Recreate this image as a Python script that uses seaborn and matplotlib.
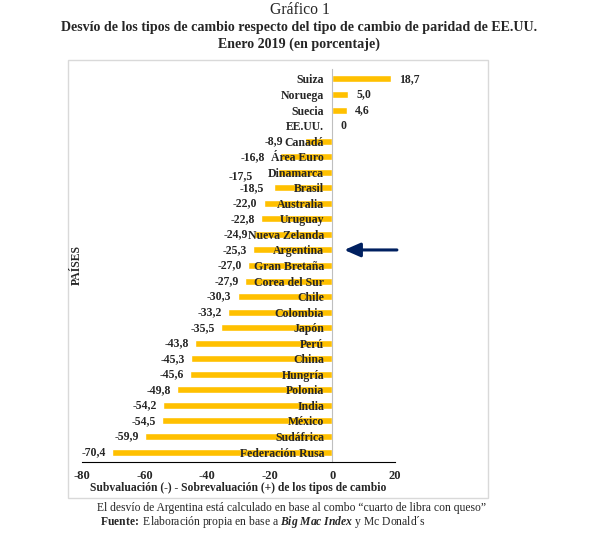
import numpy as np
import pandas as pd
import matplotlib
matplotlib.use("Agg")
import matplotlib.pyplot as plt
import seaborn as sns
from matplotlib.patches import Rectangle

# ---- datos ----
paises = ["Suiza", "Noruega", "Suecia", "EE.UU.", "Canadá", "Área Euro", "Dinamarca",
          "Brasil", "Australia", "Uruguay", "Nueva Zelanda", "Argentina", "Gran Bretaña",
          "Corea del Sur", "Chile", "Colombia", "Japón", "Perú", "China", "Hungría",
          "Polonia", "India", "México", "Sudáfrica", "Federación Rusa"]
desvio = [18.7, 5.0, 4.6, 0.0, -8.9, -16.8, -17.5, -18.5, -22.0, -22.8, -24.9, -25.3,
          -27.0, -27.9, -30.3, -33.2, -35.5, -43.8, -45.3, -45.6, -49.8, -54.2, -54.5,
          -59.9, -70.4]
etiquetas = ["18,7", "5,0", "4,6", "0", "-8,9", "-16,8", "-17,5", "-18,5", "-22,0",
             "-22,8", "-24,9", "-25,3", "-27,0", "-27,9", "-30,3", "-33,2", "-35,5",
             "-43,8", "-45,3", "-45,6", "-49,8", "-54,2", "-54,5", "-59,9", "-70,4"]
x_ticks = [-80, -60, -40, -20, 0, 20]

# ajustes manuales de etiquetas (px): las que Excel movió a mano
nudge = {"Canadá": (-15, 0), "Área Euro": (-9, 0), "Dinamarca": (-19, -4), "Brasil": (-4, 0)}

df = pd.DataFrame({"Pais": paises, "Desvio": desvio})

sns.set_theme(style="white")
plt.rcParams["font.family"] = ["Liberation Serif", "DejaVu Serif"]
plt.rcParams["mathtext.fontset"] = "custom"
plt.rcParams["mathtext.rm"] = "Liberation Serif"
plt.rcParams["mathtext.it"] = "Liberation Serif:italic"
plt.rcParams["mathtext.bf"] = "Liberation Serif:bold"
plt.rcParams["mathtext.bfit"] = "Liberation Serif:bold:italic"

fig = plt.figure(figsize=(5.99, 5.37), dpi=100)
W, H = 599, 537

# marco del gráfico
fig.patches.append(Rectangle((68 / W, 1 - 498 / H), 420 / W, 438 / H, transform=fig.transFigure,
                             fill=False, edgecolor="#D9D9D9", lw=1.0))

ax = fig.add_axes([82 / W, 1 - 462 / H, 313 / W, 393 / H])
sns.barplot(data=df, y="Pais", x="Desvio", orient="h", color="#FFC000",
            saturation=1, width=0.45, ax=ax)
ax.set_axisbelow(False)

ax.set_xlim(-80, 20)
ax.set_ylim(len(paises) - 1 + 0.64, -0.64)
ax.set_xticks(x_ticks)
ax.set_xticks(np.arange(-80, 21, 5), minor=True)
ax.set_xticklabels([str(t) for t in x_ticks], fontweight="bold", fontsize=9)
ax.tick_params(axis="x", which="major", direction="out", length=4, width=0.8, color="black", pad=2)
ax.tick_params(axis="x", which="minor", direction="out", length=2.5, width=0.8, color="black")

# eje vertical en cero
for s in ["top", "right"]:
    ax.spines[s].set_visible(False)
ax.spines["left"].set_position(("data", 0))
ax.spines["left"].set_color("#BFBFBF")
ax.spines["left"].set_linewidth(0.8)
ax.spines["bottom"].set_color("black")
ax.spines["bottom"].set_linewidth(0.8)
ax.set_yticks(range(len(paises)))
ax.set_yticklabels(paises, fontweight="bold", fontsize=8.5)
ax.tick_params(axis="y", which="major", length=0, pad=6)
ax.set_yticks(np.arange(-0.5, len(paises), 1), minor=True)
ax.tick_params(axis="y", which="minor", direction="out", length=3, color="#BFBFBF", width=0.8)

ax.set_xlabel("Subvaluación (-) - Sobrevaluación (+) de los tipos de cambio",
              fontweight="bold", fontsize=8.4, labelpad=0)
ax.set_ylabel("")
fig.text(77 / W, 1 - 265 / H, "PAÍSES", rotation=90, ha="center", va="center",
         fontweight="bold", fontsize=8.5)

# etiquetas de valor
for i, (p, v, lab) in enumerate(zip(paises, desvio, etiquetas)):
    dx, dy = nudge.get(p, (0, 0))
    if v < 0:
        ax.annotate(lab, (v, i), xytext=((-6 + dx) * 0.72, dy * 0.72), textcoords="offset points",
                    ha="right", va="center", fontweight="bold", fontsize=8.5)
    else:
        ax.annotate(lab, (v, i), xytext=((8 + dx) * 0.72, dy * 0.72), textcoords="offset points",
                    ha="left", va="center", fontweight="bold", fontsize=8.5)

# flecha hacia Argentina
i_arg = paises.index("Argentina")
ax.annotate("", xy=(2.9, i_arg), xytext=(21.5, i_arg),
            arrowprops=dict(arrowstyle="-|>,head_length=0.8,head_width=0.35",
                            color="#002060", lw=2.2), annotation_clip=False)

# títulos
fig.text(0.5, 1 - 10 / H, "Gráfico 1", ha="center", va="center", fontsize=11.3)
fig.text(0.5, 1 - 27 / H, "Desvío de los tipos de cambio respecto del tipo de cambio de paridad de EE.UU.",
         ha="center", va="center", fontsize=10.1, fontweight="bold")
fig.text(0.5, 1 - 44 / H, "Enero 2019 (en porcentaje)", ha="center", va="center",
         fontsize=10.1, fontweight="bold")

# notas al pie
fig.text(97 / W, 1 - 508 / H, "El desvío de Argentina está calculado en base al combo “cuarto de libra con queso”",
         ha="left", va="center", fontsize=8.4)
fig.text(100 / W, 1 - 522 / H,
         r"$\mathbf{Fuente\!:}$ Elaboración propia en base a $\mathbfit{Big\ Mac\ Index}$ y Mc Donald´s",
         ha="left", va="center", fontsize=8.4)

fig.savefig("out.png", dpi=100)
